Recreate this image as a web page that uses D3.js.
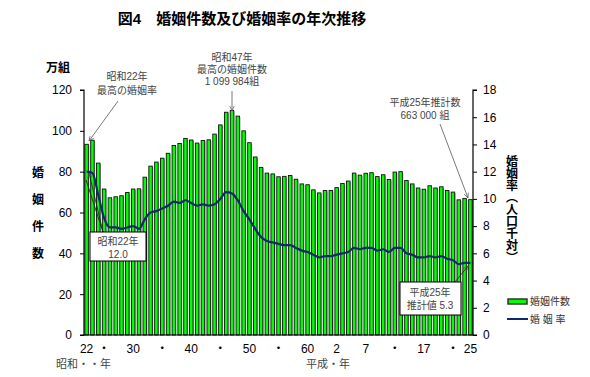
<!DOCTYPE html>
<html><head><meta charset="utf-8">
<script src="https://cdn.jsdelivr.net/npm/d3@7"></script>
<style>
body{margin:0;background:#fff;}
text{font-family:"Liberation Sans","Noto Sans CJK JP",sans-serif;}
</style></head>
<body><svg id="c" width="590" height="377"></svg>
<script>
const years = d3.range(1947, 2014);
const marriages = [93.4,95.4,84.2,71.5,67.2,67.7,68.2,69.8,71.5,71.6,77.3,82.7,84.7,86.6,89.0,92.8,93.8,96.3,95.5,94.0,95.3,95.6,98.4,102.9,109.1,110.0,107.2,100.0,94.2,87.2,82.1,79.3,78.9,77.5,77.7,78.1,76.3,74.0,73.6,71.1,69.6,70.8,70.8,72.2,74.2,75.4,79.3,78.3,79.2,79.5,77.6,78.5,76.2,79.8,80.0,75.7,74.0,72.0,71.4,73.1,72.0,72.6,70.8,70.0,66.2,66.9,66.3];
const rates = [12.0,11.9,10.3,8.6,7.9,7.9,7.8,7.9,8.0,7.8,8.5,9.0,9.1,9.3,9.5,9.8,9.7,9.9,9.7,9.5,9.6,9.5,9.6,10.0,10.5,10.4,9.9,9.1,8.5,7.8,7.2,6.9,6.8,6.7,6.6,6.6,6.4,6.2,6.1,5.9,5.7,5.8,5.8,5.9,6.0,6.1,6.4,6.3,6.4,6.4,6.2,6.3,6.1,6.4,6.4,6.0,5.9,5.7,5.7,5.8,5.7,5.8,5.6,5.5,5.2,5.3,5.3];
const leftTicks = [0,20,40,60,80,100,120];
const rightTicks = [0,2,4,6,8,10,12,14,16,18];
const xTickYears = [1947,1950,1955,1960,1965,1970,1975,1980,1985,1990,1995,2000,2005,2010,2013];
const xTickLabels = ["22","・","30","・","40","・","50","・","60","2","7","・","17","・","25"];

const svg = d3.select("#c");
const L=84, R=473, T=90, B=335;
const x = d3.scaleBand().domain(years).range([L,R]).paddingInner(0.4).paddingOuter(0.15);
const yL = d3.scaleLinear().domain([0,120]).range([B,T]);
const yR = d3.scaleLinear().domain([0,18]).range([B,T]);

// title
svg.append("text").attr("x",242).attr("y",24).attr("text-anchor","middle")
  .attr("font-size",15).attr("font-weight","bold").text("図4　婚姻件数及び婚姻率の年次推移");

// bars shadow
svg.append("g").selectAll("rect").data(years).join("rect")
  .attr("x",d=>x(d)+x.bandwidth()).attr("y",(d,i)=>yL(marriages[i])+1)
  .attr("width",1).attr("height",(d,i)=>B-yL(marriages[i])-1)
  .attr("fill","#aaa");
svg.append("g").selectAll("rect").data(years).join("rect")
  .attr("x",d=>x(d)).attr("y",(d,i)=>yL(marriages[i]))
  .attr("width",x.bandwidth()).attr("height",(d,i)=>B-yL(marriages[i]))
  .attr("fill","#00ff00").attr("stroke","#111").attr("stroke-width",0.9);

// axes
const axL = svg.append("g").attr("transform",`translate(${L},0)`)
  .call(d3.axisLeft(yL).tickValues(leftTicks).tickSize(4).tickPadding(8));
const axR = svg.append("g").attr("transform",`translate(${R},0)`)
  .call(d3.axisRight(yR).tickValues(rightTicks).tickSize(4).tickPadding(6));
[axL,axR].forEach(a=>{a.select(".domain").attr("stroke","#000").attr("stroke-width",1.2);
  a.selectAll("text").attr("font-size",12).attr("fill","#000").attr("font-family","Liberation Sans, sans-serif");
  a.selectAll("line").attr("stroke","#000");});
axL.selectAll(".domain").attr("d",`M-4,${T}H0V${B}H-4`);
axR.selectAll(".domain").attr("d",`M4,${T}H0V${B}H4`);
svg.append("line").attr("x1",L).attr("x2",R).attr("y1",B).attr("y2",B).attr("stroke","#000").attr("stroke-width",1.2);

// x labels
svg.append("g").selectAll("text").data(xTickYears).join("text")
  .attr("x",d=>x(d)+x.bandwidth()/2).attr("y",353).attr("text-anchor","middle")
  .attr("font-size",12).text((d,i)=>xTickLabels[i]);
svg.append("text").attr("x",56).attr("y",368).attr("font-size",11).attr("fill","#444").attr("text-anchor","start").text("昭和・・年");
svg.append("text").attr("x",328).attr("y",368).attr("font-size",11).attr("fill","#444").attr("text-anchor","middle").text("平成・年");

// line
const line = d3.line().x((d,i)=>x(years[i])+x.bandwidth()/2).y(d=>yR(d)).curve(d3.curveMonotoneX);
svg.append("path").datum(rates).attr("d",line).attr("fill","none").attr("stroke","#0d2a6b").attr("stroke-width",2.2);

// axis titles
svg.append("text").attr("x",58).attr("y",72).attr("font-size",12).attr("font-weight","bold").attr("text-anchor","middle").text("万組");
["婚","姻","件","数"].forEach((c,i)=>svg.append("text").attr("x",38).attr("y",177+i*27).attr("font-size",12).attr("font-weight","bold").attr("text-anchor","middle").text(c));
svg.append("text").attr("x",512).attr("y",155).attr("font-size",12).attr("font-weight","bold")
  .attr("style","writing-mode:vertical-rl;font-family:'Noto Sans CJK JP',sans-serif").text("婚姻率（人口千対）");

// annotations
svg.append("defs").append("marker").attr("id","ah").attr("viewBox","0 0 10 10").attr("refX",9).attr("refY",5)
  .attr("markerWidth",7).attr("markerHeight",7).attr("orient","auto")
  .append("path").attr("d","M0,1L9,5L0,9").attr("fill","none").attr("stroke","#555").attr("stroke-width",1.2);
const ann = (lines,cx,y0,dy)=>lines.forEach((t,i)=>svg.append("text").attr("x",cx).attr("y",y0+i*dy)
  .attr("text-anchor","middle").attr("font-size",10).attr("fill","#444").text(t));
ann(["昭和22年","最高の婚姻率"],127,80,14);
ann(["昭和47年","最高の婚姻件数","1 099 984組"],232,61,12);
ann(["平成25年推計数","663 000 組"],425,106,13);
const arr=(x1,y1,x2,y2,c)=>svg.append("line").attr("x1",x1).attr("y1",y1).attr("x2",x2).attr("y2",y2)
  .attr("stroke",c||"#555").attr("stroke-width",0.8).attr("marker-end","url(#ah)");
arr(118,101,89,141);
arr(232,91,232,111);
arr(440,124,468,198);

// boxes
svg.append("line").attr("x1",103).attr("y1",232).attr("x2",86).attr("y2",180).attr("stroke","#222").attr("stroke-width",0.9);
arr(103,232,89,173,"#222");
svg.append("rect").attr("x",90).attr("y",232).attr("width",56).attr("height",29).attr("fill","#fff").attr("stroke","#000").attr("stroke-width",1);
ann(["昭和22年","12.0"],118,245,13);
arr(455,282,468,266,"#222");
svg.append("rect").attr("x",400).attr("y",282).attr("width",61).attr("height",33).attr("fill","#fff").attr("stroke","#000").attr("stroke-width",1);
ann(["平成25年","推計値 5.3"],430,296,13);

// legend
svg.append("rect").attr("x",508).attr("y",299).attr("width",19).attr("height",5).attr("fill","#00ff00").attr("stroke","#333").attr("stroke-width",1.5);
svg.append("text").attr("x",530).attr("y",305).attr("font-size",10).attr("fill","#333").text("婚姻件数");
svg.append("line").attr("x1",507).attr("x2",528).attr("y1",319).attr("y2",319).attr("stroke","#0d2a6b").attr("stroke-width",2);
svg.append("text").attr("x",530).attr("y",323).attr("font-size",10).attr("fill","#333").text("婚 姻 率");
</script></body></html>
